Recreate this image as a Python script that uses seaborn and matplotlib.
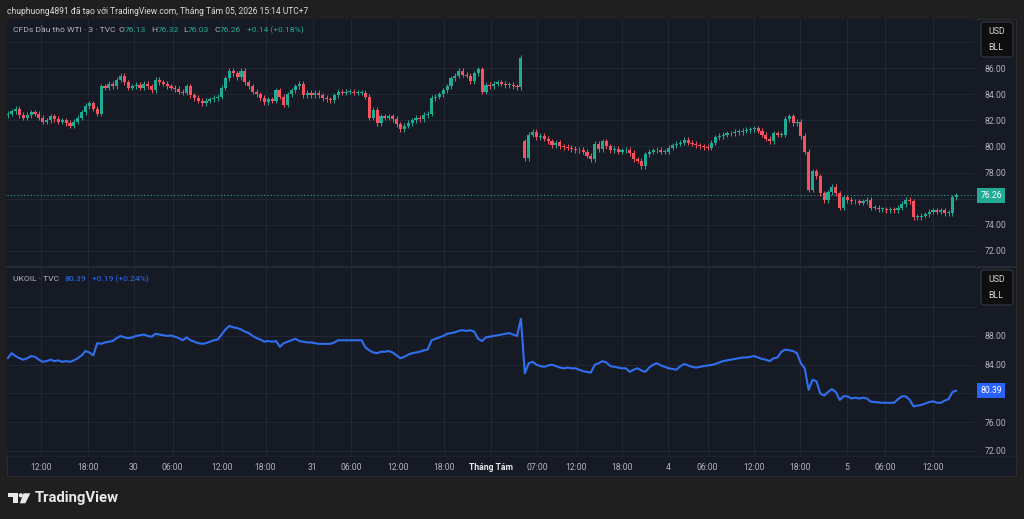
import matplotlib
matplotlib.use("Agg")
import matplotlib.pyplot as plt
import matplotlib.transforms as mtransforms
from matplotlib.patches import Rectangle, FancyBboxPatch, Polygon, Circle
from matplotlib.lines import Line2D
import pandas as pd
import seaborn as sns

# WTI 3-min chart, resampled to half-hour candles (index based, weekend gap removed)
wti_open_1 = 82.4
wti_close_1 = [
    82.5, 82.7, 82.9, 82.4, 82.2, 82.4, 82.6, 82.5, 82.2, 81.9,
    82.0, 82.3, 82.1, 81.9, 82.0, 81.8, 81.6, 81.9, 82.2, 82.6,
    83.1, 83.3, 82.9, 82.5, 84.6, 84.5, 84.8, 84.6, 85.1, 85.4,
    84.9, 84.5, 84.6, 84.7, 84.5, 84.8, 84.6, 84.3, 85.1, 84.9,
    84.8, 84.6, 84.5, 84.4, 84.2, 84.1, 84.6, 83.9, 83.7, 83.5,
    83.3, 83.5, 83.6, 83.7, 83.8, 84.5, 85.2, 85.8, 85.6, 85.3,
    85.8, 84.9, 84.6, 84.2, 84.0, 83.7, 83.4, 83.6, 83.5, 84.3,
    83.8, 83.2, 84.0, 84.3, 84.6, 84.8, 83.9, 84.1, 83.9, 84.1,
    83.9, 83.7, 83.6, 83.55, 83.9, 84.2, 84.1, 84.2, 84.2, 84.1,
    84.1, 84.1, 83.8, 82.2, 82.8, 81.8, 82.3, 82.2, 82.3, 82.1,
    81.7, 81.3, 81.6, 81.8, 82.0, 82.2, 82.1, 82.4, 82.5, 83.7,
    83.8, 84.0, 84.3, 84.6, 85.2, 85.4, 85.8, 85.5, 85.4, 85.0,
    85.6, 85.9, 84.2, 84.7, 84.6, 84.8, 84.9, 84.8, 84.7, 84.7,
    84.6, 84.55, 86.8,
]
wti_open_2 = 80.4
wti_close_2 = [
    79.1, 80.9, 81.1, 80.7, 80.8, 80.6, 80.4, 80.1, 80.3, 80.0,
    79.95, 79.9, 79.8, 79.7, 79.75, 79.6, 79.3, 79.0, 80.2, 79.8,
    80.4, 80.0, 79.7, 79.8, 79.6, 79.7, 79.75, 79.5, 79.0, 78.9,
    78.5, 79.4, 79.6, 79.7, 79.75, 79.6, 79.6, 79.9, 80.1, 80.2,
    80.3, 80.5, 80.3, 80.2, 80.1, 80.0, 79.95, 79.9, 80.3, 80.7,
    80.8, 80.9, 81.0, 81.0, 81.1, 81.1, 81.2, 81.25, 81.3, 81.4,
    81.2, 80.9, 80.6, 80.4, 81.0, 80.9, 80.9, 82.1, 82.3, 81.8,
    81.9, 80.8, 79.6, 76.7, 78.1, 77.7, 76.4, 75.9, 76.5, 76.9,
    76.4, 75.3, 76.1, 75.9, 75.8, 75.8, 75.7, 75.8, 75.9, 75.3,
    75.3, 75.2, 75.2, 75.1, 75.2, 75.1, 75.3, 75.6, 75.9, 75.8,
    74.6, 74.6, 74.7, 74.8, 75.0, 75.1, 75.0, 75.1, 74.9, 74.9,
    76.1, 76.26,
]

# UKOIL line, same bar index
ukoil_1 = [
    84.9, 85.6, 85.2, 84.9, 84.7, 84.9, 85.2, 85.1, 84.7, 84.4,
    84.5, 84.7, 84.5, 84.6, 84.4, 84.5, 84.4, 84.6, 84.9, 85.3,
    85.9, 85.7, 85.3, 87.0, 86.9, 87.1, 87.2, 87.3, 87.7, 88.0,
    87.8, 87.7, 87.8, 88.0, 88.1, 88.2, 88.0, 87.9, 88.3, 88.2,
    88.1, 88.0, 88.05, 87.9, 87.7, 87.4, 87.8, 87.4, 87.2, 87.0,
    86.9, 87.0, 87.2, 87.4, 87.5, 88.2, 88.9, 89.4, 89.2, 89.1,
    88.9, 88.6, 88.4, 88.0, 87.7, 87.5, 87.2, 87.3, 87.2, 87.3,
    86.5, 87.0, 87.2, 87.4, 87.6, 87.3, 87.2, 87.1, 87.1, 87.0,
    86.9, 86.9, 86.9, 86.9, 87.1, 87.4, 87.4, 87.4, 87.4, 87.4,
    87.4, 87.4, 86.4, 86.0, 85.7, 85.6, 85.8, 85.8, 85.9, 85.7,
    85.3, 84.9, 85.1, 85.4, 85.6, 85.7, 85.8, 86.0, 86.1, 87.4,
    87.6, 87.8, 88.0, 88.3, 88.4, 88.5, 88.7, 88.8, 88.7, 88.8,
    88.6, 87.6, 87.3, 87.8, 87.9, 88.0, 88.1, 88.2, 88.3, 88.4,
    88.2, 88.0, 90.4,
]
ukoil_2 = [
    82.8, 84.2, 84.4, 84.0, 83.8, 83.7, 83.9, 84.0, 83.8, 83.6,
    83.5, 83.6, 83.5, 83.5, 83.3, 83.1, 83.0, 82.9, 84.0, 84.2,
    84.5, 84.3, 83.8, 83.7, 83.6, 83.5, 83.5, 83.0, 83.3, 83.5,
    83.2, 83.0, 83.6, 84.0, 84.2, 83.9, 83.7, 83.5, 83.4, 83.3,
    83.8, 84.1, 83.9, 83.7, 83.6, 83.7, 83.8, 83.9, 83.95, 84.1,
    84.3, 84.5, 84.6, 84.7, 84.8, 84.9, 85.0, 85.0, 85.1, 85.2,
    85.0, 84.8, 84.7, 84.5, 84.9, 85.0, 85.8, 86.1, 86.0, 85.9,
    85.6, 84.2, 83.5, 80.5, 81.9, 81.7, 80.0, 79.7, 80.2, 80.6,
    80.2, 79.1, 79.6, 79.6, 79.3, 79.4, 79.3, 79.4, 79.3, 78.85,
    78.8, 78.75, 78.7, 78.7, 78.7, 78.7, 79.2, 79.6, 79.6, 79.1,
    78.2, 78.3, 78.4, 78.6, 78.8, 78.9, 78.7, 78.7, 79.0, 79.2,
    80.2, 80.39,
]

# time axis (bar index of each label)
tick_pos = [8.5, 20.6, 32.4, 42.4, 55.0, 66.3, 78.4, 88.4, 100.5, 112.3, 124.2,
            136.2, 146.3, 158.1, 169.9, 180.0, 192.0, 203.9, 215.9, 225.7, 238.0]
tick_labels = ["12:00", "18:00", "30", "06:00", "12:00", "18:00", "31", "06:00", "12:00",
               "18:00", "Tháng Tám", "07:00", "12:00", "18:00", "4", "06:00", "12:00",
               "18:00", "5", "06:00", "12:00"]
wti_ticks = [72, 74, 76, 78, 80, 82, 84, 86, 88]
ukoil_ticks = [72, 76, 80, 84, 88, 92]

wti_last = wti_close_2[-1]
ukoil_last = ukoil_2[-1]

# colours
OUTER = "#1f1f1f"
PANEL = "#161a25"
GRID = "#232734"
TXT = "#b2b5be"
UP = "#22ab94"
DOWN = "#f7525f"
BLUE = "#2f6ff0"

# build frames
closes = wti_close_1 + wti_close_2
opens = [wti_open_1] + wti_close_1[:-1] + [wti_open_2] + wti_close_2[:-1]
wti = pd.DataFrame({"bar": range(len(closes)), "open": opens, "close": closes})
wti["up"] = wti["close"] >= wti["open"]
wti["top"] = wti[["open", "close"]].max(axis=1)
wti["bot"] = wti[["open", "close"]].min(axis=1)
uk_vals = ukoil_1 + ukoil_2
uk = pd.DataFrame({"bar": range(len(uk_vals)), "price": uk_vals})

sns.set_theme(style="dark", rc={"axes.facecolor": PANEL, "figure.facecolor": OUTER})
plt.rcParams["font.family"] = ["Roboto", "DejaVu Sans"]

W, H = 1024, 519
fig = plt.figure(figsize=(W / 100, H / 100), dpi=100)
ident = mtransforms.IdentityTransform()


def fx(x):
    return x / W


def fy(y):
    return 1 - y / H


# chart container
fig.add_artist(Rectangle((7, H - 476), 1009, 457, transform=ident, fc=PANEL,
                         ec="#2b2b2b", lw=0.8, zorder=-1))

ax1 = fig.add_axes([fx(7), fy(266), 968 / W, 247 / H])
ax2 = fig.add_axes([fx(7), fy(455), 968 / W, 188 / H])

# candles
wick = 0.2
colors = [UP if u else DOWN for u in wti["up"]]
ax1.vlines(wti["bar"], wti["bot"] - wick, wti["top"] + wick, colors=colors, lw=0.7, zorder=3)
ax1.bar(wti["bar"], (wti["top"] - wti["bot"]).clip(lower=0.06), bottom=wti["bot"],
        width=0.8, color=colors, linewidth=0, zorder=3)
ax1.axhline(wti_last, color=UP, lw=0.8, ls=(0, (1, 2)), zorder=2)

# UKOIL line
sns.lineplot(data=uk, x="bar", y="price", ax=ax2, color=BLUE, lw=1.5,
             estimator=None, sort=False, legend=False, zorder=3)

# labels hidden in the reference by the currency boxes and last-price tags
hidden = {76, 80, 88, 92}

for ax, ticks, lim in [(ax1, wti_ticks, (70.85, 89.75)), (ax2, ukoil_ticks, (71.43, 97.6))]:
    ax.set_facecolor(PANEL)
    ax.set_xlim(-0.2, 248.8)
    ax.set_ylim(*lim)
    ax.set_xticks(tick_pos)
    ax.set_yticks(ticks)
    ax.yaxis.tick_right()
    ax.grid(True, color=GRID, lw=0.8)
    ax.set_xlabel("")
    ax.set_ylabel("")
    for s in ax.spines.values():
        s.set_visible(False)
    ax.tick_params(axis="y", length=0, pad=7, labelsize=6.2, labelcolor=TXT)
    ax.tick_params(axis="x", length=0, labelsize=6.2, labelcolor=TXT)

ax1.set_yticklabels(["" if t in (76, 88) else f"{t:.2f}" for t in wti_ticks])
ax2.set_yticklabels(["" if t in (80, 92) else f"{t:.2f}" for t in ukoil_ticks])

ax1.tick_params(axis="x", labelbottom=False)
ax2.set_xticklabels(tick_labels)
ax2.tick_params(axis="x", pad=6)
for lab in ax2.get_xticklabels():
    if lab.get_text() == "Tháng Tám":
        lab.set_fontweight("bold")
        lab.set_color("#e6e6e6")

# last price tags
ax1.text(1.0055, wti_last, f"{wti_last:.2f}", transform=ax1.get_yaxis_transform(),
         ha="left", va="center", fontsize=6.2, color="white", clip_on=False, zorder=6,
         bbox=dict(boxstyle="square,pad=0.35", fc=UP, ec="none"))
ax2.text(1.0055, ukoil_last, f"{ukoil_last:.2f}", transform=ax2.get_yaxis_transform(),
         ha="left", va="center", fontsize=6.2, color="white", clip_on=False, zorder=6,
         bbox=dict(boxstyle="square,pad=0.35", fc="#2962ff", ec="none"))

# pane separators
fig.add_artist(Line2D([fx(7), fx(1016)], [fy(266.5)] * 2, color="#2a2e39", lw=1.2))
fig.add_artist(Line2D([fx(7), fx(1016)], [fy(455.5)] * 2, color="#1d212c", lw=0.8))

# currency boxes
for top in (22, 270):
    fig.add_artist(FancyBboxPatch((981, H - top - 35), 32, 35, transform=ident,
                                  boxstyle="round,pad=0,rounding_size=3",
                                  fc="#0e0e0e", ec="#363a45", lw=0.8, zorder=5))
    fig.text(fx(988), fy(top + 9), "USD", fontsize=6.3, color="#d1d4dc", va="center", zorder=6)
    fig.text(fx(988), fy(top + 26), "BLL", fontsize=6.3, color="#d1d4dc", va="center", zorder=6)


def chain(ax, x, y, parts, size=6.1):
    prev = ax.text(x, y, parts[0][0], color=parts[0][1], fontsize=size,
                   transform=fig.transFigure, va="center", ha="left")
    for s, c, gap in parts[1:]:
        prev = ax.annotate(s, xy=(1, 0.5), xycoords=prev, xytext=(gap, 0),
                           textcoords="offset points", va="center", ha="left",
                           color=c, fontsize=size, annotation_clip=False)


chain(ax1, fx(13), fy(30), [("CFDs Dầu thô WTI · 3 · TVC", TXT, 0), ("O", TXT, 2.5),
                            ("76.13", UP, 0), ("H", TXT, 3.5), ("76.32", UP, 0),
                            ("L", TXT, 3.5), ("76.03", UP, 0), ("C", TXT, 3.5),
                            (f"{wti_last:.2f}", UP, 0), ("+0.14 (+0.18%)", UP, 4)])
chain(ax2, fx(13), fy(279), [("UKOIL · TVC", TXT, 0), (f"{ukoil_last:.2f}", BLUE, 4),
                             ("+0.19 (+0.24%)", BLUE, 4)])

fig.text(fx(7), fy(11), "chuphuong4891 đã tạo với TradingView.com, Tháng Tám 05, 2026 15:14 UTC+7",
         fontsize=6.15, color="#dcdcdc", va="center")

# TradingView logo
logo = "#e8e8e8"
fig.add_artist(Rectangle((8.3, H - 497.3), 10, 4, transform=ident, fc=logo, ec="none"))
fig.add_artist(Rectangle((12.7, H - 503.3), 5.6, 6.5, transform=ident, fc=logo, ec="none"))
fig.add_artist(Circle((20.8, H - 495.3), 2.1, transform=ident, fc=logo, ec="none"))
fig.add_artist(Polygon([(23.5, H - 493.3), (30.3, H - 493.3), (25.4, H - 503.3), (19.8, H - 503.3)],
                       closed=True, transform=ident, fc=logo, ec="none"))
fig.text(fx(35), fy(498), "TradingView", fontsize=10.7, fontweight="semibold", color=logo, va="center")

fig.savefig("out.png", dpi=100, facecolor=OUTER)
